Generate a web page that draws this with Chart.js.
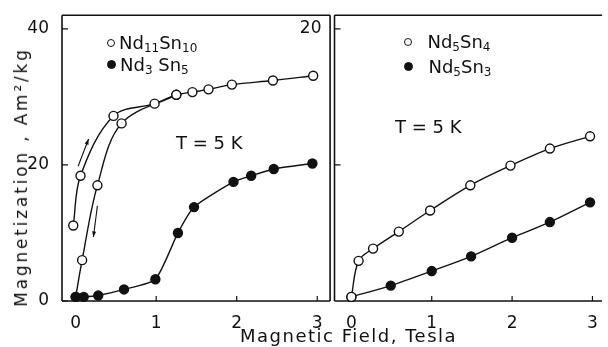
<!DOCTYPE html>
<html>
<head>
<meta charset="utf-8">
<script src="https://cdn.jsdelivr.net/npm/chart.js@4.4.1/dist/chart.umd.min.js"></script>
<style>
  body { margin: 0; background: #fff; width: 608px; height: 347px; overflow: hidden; position: relative;
         font-family: "DejaVu Sans", sans-serif; color: #111; }
  #leftBox { position: absolute; left: 0; top: 0; width: 336px; height: 347px; }
  #rightBox { position: absolute; left: 290px; top: 0; width: 318px; height: 347px; }
  .txt { position: absolute; font-size: 18px; line-height: 1; white-space: nowrap; }
  .txt sub { font-size: 12px; vertical-align: -3px; }
  .dot { display: inline-block; width: 8px; height: 8px; border-radius: 50%; border: 1.4px solid #111;
         box-sizing: border-box; margin-right: 4px; vertical-align: 2px; background: #fff; }
  .dot.full { background: #111; width: 9px; height: 9px; }
  #ytitle { position: absolute; left: 21px; top: 177px; font-size: 17px; letter-spacing: 2.8px; white-space: nowrap;
            transform: translate(-50%, -50%) rotate(-90deg); }
  #xtitle { position: absolute; left: 240px; top: 325px; font-size: 18px; letter-spacing: 1.5px; word-spacing: 0px; white-space: nowrap; }
</style>
</head>
<body>
<div id="leftBox"><canvas id="leftChart"></canvas></div>
<div id="rightBox"><canvas id="rightChart"></canvas></div>

<div class="txt" style="left:107px;top:34px"><span class="dot"></span>Nd<sub>11</sub>Sn<sub>10</sub></div>
<div class="txt" style="left:107px;top:56px"><span class="dot full"></span>Nd<sub>3</sub> Sn<sub>5</sub></div>
<div class="txt" style="left:176px;top:134px">T = 5 K</div>
<div class="txt" style="left:404px;top:33px"><span class="dot"></span>&nbsp;&nbsp;Nd<sub>5</sub>Sn<sub>4</sub></div>
<div class="txt" style="left:404px;top:58px"><span class="dot full"></span>&nbsp;&nbsp;Nd<sub>5</sub>Sn<sub>3</sub></div>
<div class="txt" style="left:395px;top:118px">T = 5 K</div>
<div id="ytitle">Magnetization , Am²/kg</div>
<div id="xtitle">Magnetic Field, Tesla</div>

<script>
// Nd11Sn10, field going up
const upField = [-0.03, 0.06, 0.47, 0.98, 1.25, 1.45, 1.65, 1.94, 2.45, 2.95];
const upMag   = [11.1, 18.4, 27.2, 29.0, 30.3, 30.7, 31.1, 31.8, 32.4, 33.1];
// Nd11Sn10, field going down
const downField = [1.25, 0.57, 0.27, 0.08, 0.0];
const downMag   = [30.3, 26.1, 17.0, 6.0, 0.6];
// Nd3Sn5
const nd3Field = [0.0, 0.1, 0.28, 0.6, 0.99, 1.27, 1.47, 1.96, 2.18, 2.46, 2.94];
const nd3Mag   = [0.6, 0.6, 0.8, 1.7, 3.2, 10.0, 13.8, 17.5, 18.4, 19.4, 20.2];
// Nd5Sn4
const nd54Field = [0.0, 0.09, 0.27, 0.59, 0.98, 1.48, 1.98, 2.47, 2.97];
const nd54Mag   = [0.3, 2.95, 3.85, 5.1, 6.65, 8.5, 9.95, 11.2, 12.1];
// Nd5Sn3
const nd53Field = [0.0, 0.49, 1.0, 1.49, 2.0, 2.47, 2.97];
const nd53Mag   = [0.3, 1.13, 2.2, 3.28, 4.65, 5.8, 7.25];

const xTicks = [0, 1, 2, 3];
const leftYTicks = [0, 20, 40];
const rightYTicks = [10, 20];

const ink = '#111';
const tickFont = { family: '"DejaVu Sans", sans-serif', size: 17 };

function pts(xs, ys) {
  return xs.map((x, i) => ({ x: x, y: ys[i] }));
}

function series(xs, ys, filled, order, tension) {
  return {
    data: pts(xs, ys),
    showLine: true,
    borderColor: ink,
    borderWidth: 1.4,
    tension: tension,
    pointRadius: 4.5,
    pointBorderWidth: 1.4,
    pointBorderColor: ink,
    pointBackgroundColor: filled ? ink : '#fff',
    clip: false,
    order: order
  };
}

// frame, inward ticks, and the little arrows
const framePlugin = {
  id: 'frame',
  beforeDatasetsDraw(chart, args, opts) {
    const { ctx, chartArea: a, scales: { x, y } } = chart;
    ctx.save();
    ctx.strokeStyle = ink;
    ctx.lineWidth = 1.6;
    ctx.beginPath();
    ctx.moveTo(a.left, a.bottom); ctx.lineTo(a.right, a.bottom);
    ctx.moveTo(a.left, a.top); ctx.lineTo(a.right, a.top);
    ctx.moveTo(a.left, a.top); ctx.lineTo(a.left, a.bottom);
    if (opts.rightSide) { ctx.moveTo(a.right, a.top); ctx.lineTo(a.right, a.bottom); }
    ctx.stroke();
    ctx.lineWidth = 1.2;
    ctx.beginPath();
    xTicks.forEach(v => {
      const px = x.getPixelForValue(v);
      ctx.moveTo(px, a.bottom); ctx.lineTo(px, a.bottom - 5);
    });
    opts.yTicks.forEach(v => {
      const py = y.getPixelForValue(v);
      ctx.moveTo(a.left, py); ctx.lineTo(a.left + 6, py);
    });
    ctx.stroke();
    (opts.arrows || []).forEach(ar => {
      const x0 = x.getPixelForValue(ar[0]), y0 = y.getPixelForValue(ar[1]);
      const x1 = x.getPixelForValue(ar[2]), y1 = y.getPixelForValue(ar[3]);
      const ang = Math.atan2(y1 - y0, x1 - x0);
      ctx.lineWidth = 1.1;
      ctx.beginPath();
      ctx.moveTo(x0, y0); ctx.lineTo(x1, y1); ctx.stroke();
      ctx.beginPath();
      ctx.moveTo(x1, y1);
      ctx.lineTo(x1 - 6 * Math.cos(ang - 0.35), y1 - 6 * Math.sin(ang - 0.35));
      ctx.lineTo(x1 - 6 * Math.cos(ang + 0.35), y1 - 6 * Math.sin(ang + 0.35));
      ctx.closePath();
      ctx.fillStyle = ink;
      ctx.fill();
    });
    ctx.restore();
  }
};

function makeOptions(xMin, xMax, yMax, yTicks, yWidth, padRight, yLabel, frameOpts) {
  return {
    responsive: true,
    maintainAspectRatio: false,
    animation: false,
    layout: { padding: { top: 13, right: padRight, left: 0, bottom: 0 } },
    plugins: { legend: { display: false }, tooltip: { enabled: false }, frame: frameOpts },
    scales: {
      x: {
        type: 'linear', min: xMin, max: xMax,
        afterBuildTicks: s => { s.ticks = xTicks.map(v => ({ value: v })); },
        afterFit: s => { s.height = 46; },
        grid: { display: false }, border: { display: false },
        ticks: { font: tickFont, color: ink, padding: 4, maxRotation: 0 }
      },
      y: {
        type: 'linear', min: 0, max: yMax,
        afterBuildTicks: s => { s.ticks = yTicks.map(v => ({ value: v })); },
        afterFit: s => { s.width = yWidth; },
        grid: { display: false }, border: { display: false },
        ticks: { font: tickFont, color: ink, padding: 5, callback: yLabel }
      }
    }
  };
}

document.addEventListener('DOMContentLoaded', () => {
  new Chart(document.getElementById('leftChart'), {
    type: 'scatter',
    data: {
      datasets: [
        series(upField, upMag, false, 2, 0.35),
        series(downField, downMag, false, 2, 0.35),
        series(nd3Field, nd3Mag, true, 1, 0.2)
      ]
    },
    options: makeOptions(-0.17, 3.16, 42, leftYTicks, 62, 1.5, v => String(v), {
      yTicks: leftYTicks, rightSide: true,
      arrows: [[0.03, 19.8, 0.16, 23.8], [0.27, 14.0, 0.22, 9.4]]
    }),
    plugins: [framePlugin]
  });

  new Chart(document.getElementById('rightChart'), {
    type: 'scatter',
    data: {
      datasets: [
        series(nd54Field, nd54Mag, false, 1, 0.35),
        series(nd53Field, nd53Mag, true, 2, 0.3)
      ]
    },
    options: makeOptions(-0.21, 3.12, 21, rightYTicks, 44.5, 1, v => (v === 20 ? '20' : ''), {
      yTicks: rightYTicks, rightSide: false
    }),
    plugins: [framePlugin]
  });
});
</script>
</body>
</html>
